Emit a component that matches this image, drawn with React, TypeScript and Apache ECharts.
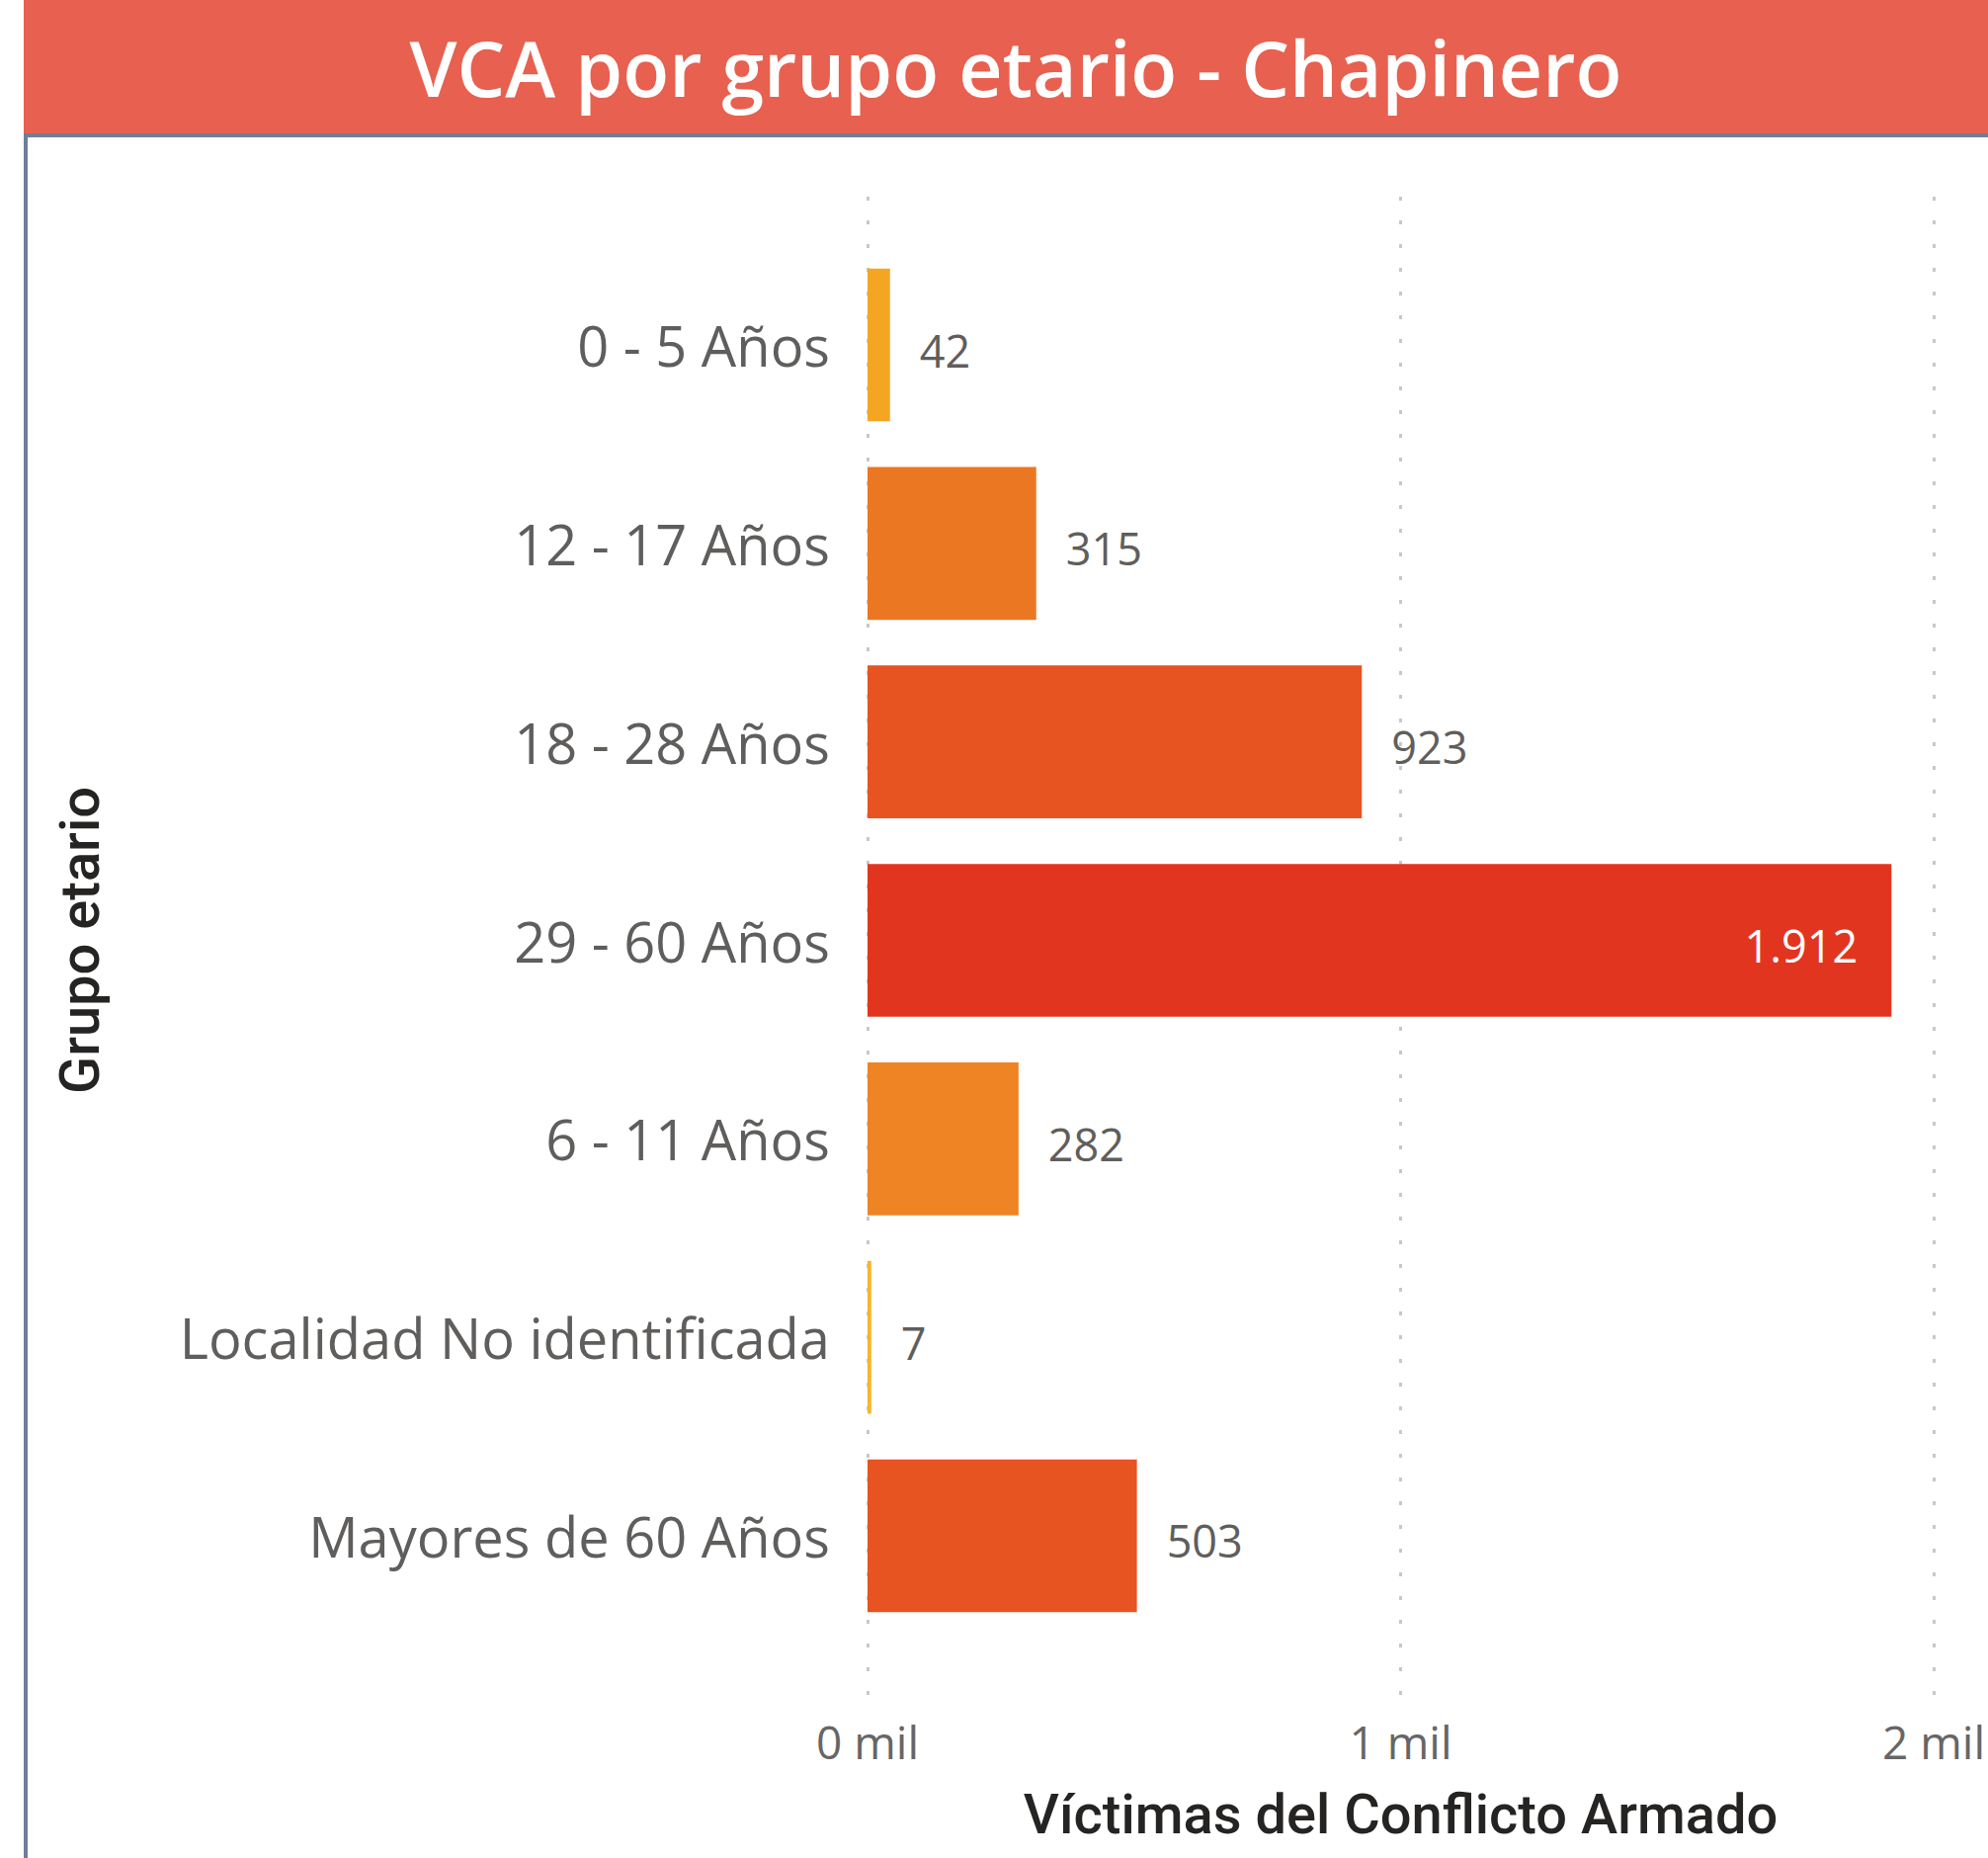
import React, { useEffect, useRef } from "react";
import * as echarts from "echarts";

const categories = [
  "0 - 5 Años",
  "12 - 17 Años",
  "18 - 28 Años",
  "29 - 60 Años",
  "6 - 11 Años",
  "Localidad No identificada",
  "Mayores de 60 Años",
];
const values = [42, 315, 923, 1912, 282, 7, 503];
const barColors = ["#F4A623", "#EC7722", "#E85322", "#E23520", "#EE8424", "#F7B52A", "#E85322"];
const xTicks = [0, 1000, 2000];

const TITLE = "VCA por grupo etario - Chapinero";
const X_NAME = "Víctimas del Conflicto Armado";
const Y_NAME = "Grupo etario";

export default function App() {
  const ref = useRef<HTMLDivElement>(null);
  useEffect(() => {
    document.body.style.margin = "0";
    const chart = echarts.init(ref.current!, null, { renderer: "svg" });
    const gridLeft = 878;
    const gridRight = 50;
    const fmt = (v: number) => v.toLocaleString("de-DE");
    chart.setOption({
      animation: false,
      backgroundColor: "#ffffff",
      graphic: [
        { type: "rect", shape: { x: 24, y: 0, width: 2012 - 24, height: 135 }, style: { fill: "#E8604F" }, z: 0 },
        { type: "rect", shape: { x: 24, y: 135, width: 2012 - 24, height: 4 }, style: { fill: "#6E7F99" }, z: 0 },
        { type: "rect", shape: { x: 24, y: 135, width: 4, height: 1880 - 135 }, style: { fill: "#6E7F99" }, z: 0 },
        {
          type: "text",
          x: 1028,
          y: 68,
          style: {
            text: TITLE,
            fill: "#ffffff",
            font: "600 77px 'Open Sans'",
            align: "center",
            verticalAlign: "middle",
          },
          z: 1,
        },
      ],
      grid: [
        { left: gridLeft, right: gridRight, top: 248.6, bottom: 1880 - 1654.4 },
        { left: gridLeft, right: gridRight, top: 199, bottom: 1880 - 1726 },
      ],
      xAxis: [
        {
          type: "value",
          gridIndex: 0,
          min: 0,
          max: 2000,
          interval: 1000,
          axisLine: { show: false },
          axisTick: { show: false },
          axisLabel: { show: false },
          splitLine: { show: false },
        },
        {
          type: "value",
          gridIndex: 1,
          min: 0,
          max: 2000,
          interval: 1000,
          axisLine: { show: false },
          axisTick: { show: false },
          axisLabel: {
            show: true,
            formatter: (v: number) => v / 1000 + " mil",
            fontFamily: "Open Sans",
            fontSize: 46,
            color: "#666666",
            margin: 13,
          },
          splitLine: {
            show: true,
            lineStyle: { color: "#C8C8C8", width: 3, type: [4, 20] },
          },
          name: X_NAME,
          nameLocation: "middle",
          nameGap: 82,
          nameTextStyle: {
            fontFamily: "Roboto",
            fontWeight: 500,
            fontSize: 56,
            color: "#252423",
          },
        },
      ],
      yAxis: [
        {
          type: "category",
          gridIndex: 0,
          data: categories,
          inverse: true,
          axisLine: { show: false },
          axisTick: { show: false },
          axisLabel: {
            fontFamily: "Open Sans",
            fontSize: 56,
            color: "#605E5C",
            margin: 38,
          },
          name: Y_NAME,
          nameLocation: "middle",
          nameGap: 769,
          nameRotate: 90,
          nameTextStyle: {
            fontFamily: "Roboto",
            fontWeight: 500,
            fontSize: 56,
            color: "#252423",
          },
        },
        {
          type: "value",
          gridIndex: 1,
          min: 0,
          max: 1,
          show: false,
        },
      ],
      series: [
        {
          type: "bar",
          xAxisIndex: 0,
          yAxisIndex: 0,
          barCategoryGap: "23%",
          data: values.map((v, i) => ({
            value: v,
            itemStyle: { color: barColors[i] },
            label:
              v > 1500
                ? { position: "insideRight", color: "#ffffff", distance: 34 }
                : undefined,
          })),
          label: {
            show: true,
            position: "right",
            distance: 30,
            offset: [0, 5],
            formatter: (p: any) => fmt(p.value),
            fontFamily: "Open Sans",
            fontSize: 45,
            color: "#605E5C",
          },
        },
      ],
    });
    return () => chart.dispose();
  }, []);
  return <div ref={ref} style={{ position: "absolute", left: 0, top: 0, width: 2012, height: 1880 }} />;
}
